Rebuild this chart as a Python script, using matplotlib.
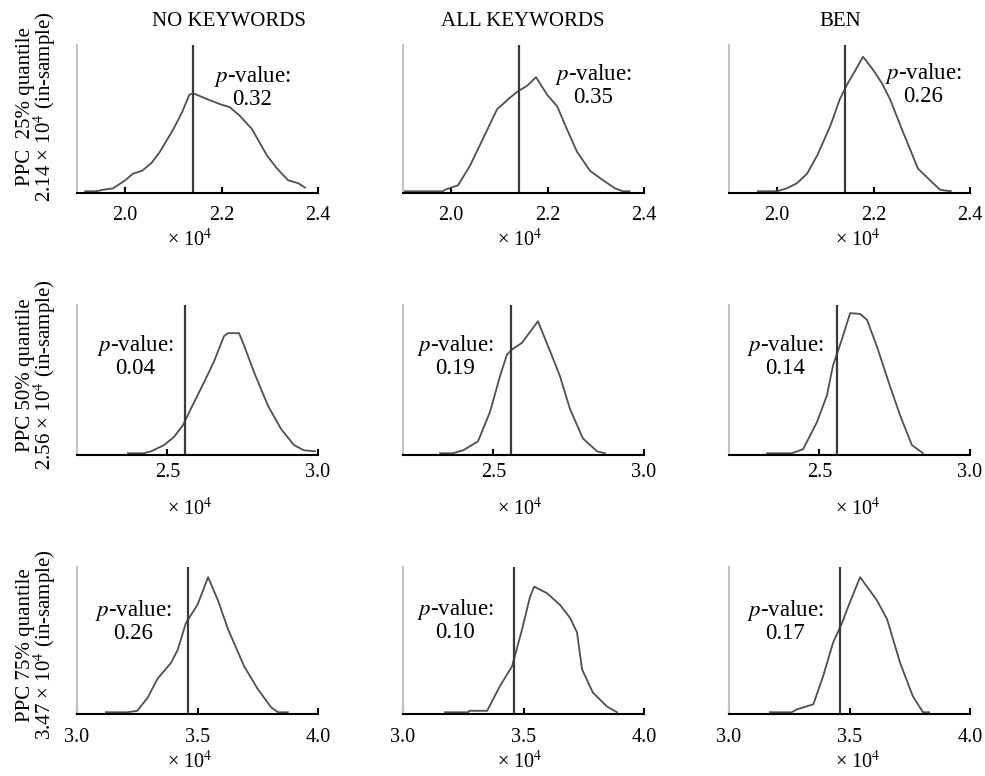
import matplotlib
matplotlib.use("Agg")
import matplotlib.pyplot as plt

plt.rcParams['font.family'] = ['Liberation Serif', 'DejaVu Serif']
plt.rcParams['mathtext.fontset'] = 'stix'

# ---------------- data ----------------
col_titles = ["NO KEYWORDS", "ALL KEYWORDS", "BEN"]
row_labels = ["PPC  25% quantile\n2.14 × 10$^4$ (in-sample)",
              "PPC 50% quantile\n2.56 × 10$^4$ (in-sample)",
              "PPC 75% quantile\n3.47 × 10$^4$ (in-sample)"]
observed = [2.14, 2.56, 3.46]
xlims = [(1.9, 2.4), (2.2, 3.0), (3.0, 4.0)]
xticks = [[2.0, 2.2, 2.4], [2.5, 3.0], [3.0, 3.5, 4.0]]
xtick_labels = [["2.0", "2.2", "2.4"], ["2.5", "3.0"], ["3.0", "3.5", "4.0"]]
pvalues = [["0.32", "0.35", "0.26"],
           ["0.04", "0.19", "0.14"],
           ["0.26", "0.10", "0.17"]]

# row 1 (25% quantile)
x_11 = [1.917, 1.94, 1.954, 1.975, 2.0, 2.016, 2.035, 2.055, 2.072, 2.1, 2.118, 2.133, 2.141,
        2.17, 2.197, 2.217, 2.238, 2.263, 2.294, 2.315, 2.338, 2.359, 2.373]
y_11 = [0.0, 0.0, 0.01, 0.02, 0.075, 0.12, 0.14, 0.195, 0.27, 0.425, 0.54, 0.66, 0.67,
        0.63, 0.595, 0.575, 0.515, 0.425, 0.245, 0.155, 0.075, 0.055, 0.025]
x_12 = [1.9, 1.983, 1.987, 2.014, 2.039, 2.066, 2.095, 2.122, 2.139, 2.157, 2.176, 2.199, 2.22,
        2.24, 2.261, 2.288, 2.315, 2.34, 2.356, 2.37]
y_12 = [0.0, 0.0, 0.01, 0.04, 0.175, 0.36, 0.56, 0.64, 0.685, 0.72, 0.78, 0.66, 0.58,
        0.425, 0.27, 0.14, 0.075, 0.02, 0.0, 0.0]
x_13 = [1.96, 2.0, 2.02, 2.041, 2.062, 2.083, 2.11, 2.13, 2.145, 2.161, 2.178, 2.199, 2.217,
        2.234, 2.261, 2.292, 2.317, 2.338, 2.36]
y_13 = [0.0, 0.0, 0.02, 0.055, 0.12, 0.245, 0.445, 0.63, 0.73, 0.82, 0.92, 0.83, 0.74,
        0.63, 0.405, 0.155, 0.075, 0.01, 0.0]

# row 2 (50% quantile)
x_21 = [2.369, 2.422, 2.446, 2.489, 2.522, 2.552, 2.578, 2.622, 2.655, 2.688, 2.701, 2.738,
        2.754, 2.788, 2.834, 2.877, 2.92, 2.953, 2.99]
y_21 = [0.0, 0.0, 0.013, 0.055, 0.11, 0.19, 0.30, 0.48, 0.62, 0.79, 0.81, 0.81,
        0.73, 0.545, 0.32, 0.165, 0.055, 0.02, 0.013]
x_22 = [2.323, 2.366, 2.4, 2.449, 2.489, 2.522, 2.545, 2.562, 2.595, 2.622, 2.648, 2.688,
        2.721, 2.754, 2.797, 2.844, 2.87]
y_22 = [0.0, 0.0, 0.02, 0.08, 0.28, 0.52, 0.665, 0.70, 0.745, 0.82, 0.89, 0.69,
        0.52, 0.30, 0.10, 0.013, 0.0]
x_23 = [2.326, 2.409, 2.446, 2.492, 2.525, 2.545, 2.575, 2.602, 2.635, 2.658, 2.691, 2.734,
        2.768, 2.807, 2.844]
y_23 = [0.0, 0.0, 0.027, 0.21, 0.39, 0.59, 0.77, 0.945, 0.94, 0.90, 0.72, 0.455,
        0.255, 0.055, 0.0]

# row 3 (75% quantile)
x_31 = [3.12, 3.175, 3.21, 3.25, 3.293, 3.334, 3.39, 3.418, 3.452, 3.50, 3.544, 3.585,
        3.627, 3.694, 3.75, 3.805, 3.834, 3.875]
y_31 = [0.0, 0.0, 0.0, 0.01, 0.10, 0.23, 0.34, 0.43, 0.615, 0.74, 0.93, 0.77,
        0.57, 0.315, 0.16, 0.035, 0.0, 0.0]
x_32 = [3.174, 3.27, 3.275, 3.349, 3.402, 3.452, 3.494, 3.527, 3.544, 3.597, 3.651, 3.693,
        3.722, 3.743, 3.788, 3.846, 3.888]
y_32 = [0.0, 0.0, 0.01, 0.01, 0.18, 0.315, 0.57, 0.795, 0.865, 0.82, 0.74, 0.65,
        0.55, 0.295, 0.135, 0.04, 0.0]
x_33 = [3.17, 3.26, 3.282, 3.35, 3.39, 3.432, 3.469, 3.50, 3.544, 3.614, 3.656, 3.71,
        3.763, 3.805, 3.83]
y_33 = [0.0, 0.0, 0.02, 0.055, 0.245, 0.48, 0.615, 0.75, 0.93, 0.77, 0.64, 0.34,
        0.11, 0.0, 0.0]

curves = [[(x_11, y_11), (x_12, y_12), (x_13, y_13)],
          [(x_21, y_21), (x_22, y_22), (x_23, y_23)],
          [(x_31, y_31), (x_32, y_32), (x_33, y_33)]]

# ---------------- layout ----------------
W, H = 985, 776
fig = plt.figure(figsize=(W / 100, H / 100), dpi=100)
col_left = [77, 403, 729]
ax_w = 241
rows_px = [(45, 193), (305, 455), (567, 714)]
title_x = [229, 523, 840]
ylabel_y = [107, 375, 645]
pv_pos = [[(252, 87), (593, 85), (923, 84)],
          [(135, 356), (455, 356), (785, 356)],
          [(133, 621), (455, 620), (785, 621)]]
xl_x = [190, 520, 858]
xl_y = [240, 509, 762]
tick_pad = [9, 6, 10]

for r in range(3):
    top, base = rows_px[r]
    for c in range(3):
        ax = fig.add_axes([col_left[c] / W, 1 - base / H, ax_w / W, (base - top) / H])
        xs, ys = curves[r][c]
        ax.plot(xs, ys, color='#505050', lw=1.3, solid_joinstyle='round')
        ax.axvline(observed[r], color='#3a3a3a', lw=1.6)
        ax.set_xlim(*xlims[r])
        ax.set_ylim(-0.012, 1.0)
        ax.set_xticks(xticks[r])
        ax.set_xticklabels(xtick_labels[r])
        ax.set_yticks([])
        ax.tick_params(axis='x', direction='in', length=4, width=1.5, pad=tick_pad[r],
                       labelsize=14.5, colors='black')
        for s in ['top', 'right']:
            ax.spines[s].set_visible(False)
        ax.spines['left'].set_color('#c4c4c4')
        ax.spines['left'].set_linewidth(1.5)
        ax.spines['bottom'].set_color('black')
        ax.spines['bottom'].set_linewidth(1.5)
        ax.patch.set_alpha(0)

        px, py = pv_pos[r][c]
        fig.text(px / W, 1 - py / H, "$p$-value:\n" + pvalues[r][c], ha='center',
                 va='center', fontsize=16.5, linespacing=0.95, multialignment='center')
        fig.text(xl_x[c] / W, 1 - xl_y[r] / H, "× 10$^4$", ha='center', va='center',
                 fontsize=14.5)

    fig.text(37 / W, 1 - ylabel_y[r] / H, row_labels[r], rotation=90, ha='center',
             va='center', fontsize=15, linespacing=0.85, multialignment='center')

for c in range(3):
    fig.text(title_x[c] / W, 1 - 21 / H, col_titles[c], ha='center', va='center',
             fontsize=15)

fig.savefig("out.png", dpi=100)
